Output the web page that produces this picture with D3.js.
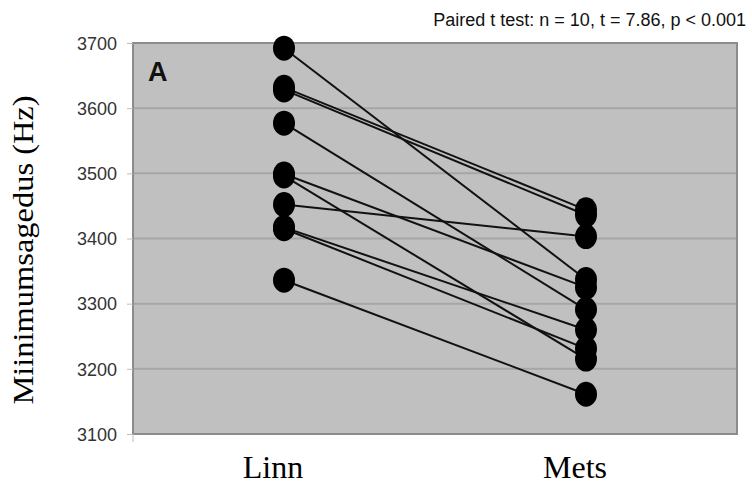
<!DOCTYPE html>
<html>
<head>
    <meta charset="utf-8">
    <title>Miinimumsagedus Linn vs Mets</title>
    <style>
        body { margin: 0; background: #ffffff; }
        .tick-label { font-family: "Liberation Sans", Arial, sans-serif; font-size: 18px; fill: #333333; }
        .cat-label { font-family: "Liberation Serif", "Times New Roman", serif; font-size: 29px; fill: #000000; }
    </style>
    <script src="https://d3js.org/d3.v7.min.js"></script>
</head>
<body>
    <div id="chart"></div>

    <script>
        // paired measurements, one entry per subject
        var groups = ["Linn", "Mets"];
        var linn = [3692, 3632, 3628, 3577, 3499, 3496, 3452, 3417, 3415, 3336];
        var mets = [3337, 3444, 3436, 3291, 3325, 3215, 3403, 3260, 3231, 3161];
        var yTicks = [3100, 3200, 3300, 3400, 3500, 3600, 3700];
        var yTitle = "Miinimumsagedus (Hz)";
        var testLabel = "Paired t test: n = 10, t = 7.86, p < 0.001";
        var panelLabel = "A";

        var W = 752, H = 485;
        var plot = { left: 133, right: 737, top: 43, bottom: 434 };

        var svg = d3.select("#chart").append("svg")
            .attr("width", W)
            .attr("height", H);

        var x = d3.scalePoint()
            .domain(groups)
            .range([plot.left, plot.right])
            .padding(0.5);

        var y = d3.scaleLinear()
            .domain([3100, 3700])
            .range([plot.bottom, plot.top]);

        // grey plot area
        svg.append("rect")
            .attr("x", plot.left)
            .attr("y", plot.top)
            .attr("width", plot.right - plot.left)
            .attr("height", plot.bottom - plot.top)
            .attr("fill", "#c0c0c0");

        // gridlines
        svg.append("g")
            .selectAll("line")
            .data(yTicks.slice(1, -1))
            .enter()
            .append("line")
            .attr("x1", plot.left)
            .attr("x2", plot.right)
            .attr("y1", function(d) { return y(d); })
            .attr("y2", function(d) { return y(d); })
            .attr("stroke", "#a6a6a6")
            .attr("stroke-width", 2);

        // border
        svg.append("rect")
            .attr("x", plot.left)
            .attr("y", plot.top)
            .attr("width", plot.right - plot.left)
            .attr("height", plot.bottom - plot.top)
            .attr("fill", "none")
            .attr("stroke", "#8c8c8c")
            .attr("stroke-width", 2);

        // y axis
        var yAxis = svg.append("g")
            .attr("transform", "translate(" + plot.left + ",0)")
            .call(d3.axisLeft(y).tickValues(yTicks).tickSize(6).tickPadding(10).tickFormat(d3.format("d")));
        yAxis.select(".domain").remove();
        yAxis.selectAll(".tick line").attr("stroke", "#bdbdbd");
        yAxis.selectAll("text").attr("class", "tick-label").attr("fill", null).attr("dy", "0.35em");

        // small tick below the bottom-left corner
        svg.append("line")
            .attr("x1", plot.left).attr("x2", plot.left)
            .attr("y1", plot.bottom).attr("y2", plot.bottom + 8)
            .attr("stroke", "#bdbdbd");

        // x labels (sit a little left of the point columns)
        svg.append("g")
            .selectAll("text")
            .data(groups)
            .enter()
            .append("text")
            .attr("class", "cat-label")
            .style("font-size", "32px")
            .attr("x", function(d) { return x(d) - 11; })
            .attr("y", 478)
            .attr("text-anchor", "middle")
            .text(function(d) { return d; });

        // y title
        svg.append("text")
            .attr("class", "cat-label")
            .attr("transform", "translate(33,250) rotate(-90) scale(1.12,1)")
            .attr("text-anchor", "middle")
            .text(yTitle);

        // paired lines
        var pairs = linn.map(function(v, i) { return { a: v, b: mets[i] }; });

        svg.append("g")
            .selectAll("line")
            .data(pairs)
            .enter()
            .append("line")
            .attr("x1", x("Linn"))
            .attr("x2", x("Mets"))
            .attr("y1", function(d) { return y(d.a); })
            .attr("y2", function(d) { return y(d.b); })
            .attr("stroke", "#111111")
            .attr("stroke-width", 2);

        // points
        var dots = svg.append("g");
        dots.selectAll(".linn")
            .data(linn)
            .enter()
            .append("ellipse")
            .attr("cx", x("Linn"))
            .attr("cy", function(d) { return y(d); })
            .attr("rx", 11)
            .attr("ry", 12.5)
            .attr("fill", "#000000");
        dots.selectAll(".mets")
            .data(mets)
            .enter()
            .append("ellipse")
            .attr("cx", x("Mets"))
            .attr("cy", function(d) { return y(d); })
            .attr("rx", 11)
            .attr("ry", 12.5)
            .attr("fill", "#000000");

        // panel letter
        svg.append("text")
            .attr("x", plot.left + 15)
            .attr("y", plot.top + 38)
            .attr("font-family", "Liberation Sans, Arial, sans-serif")
            .attr("font-weight", "bold")
            .attr("font-size", 27)
            .attr("fill", "#111111")
            .text(panelLabel);

        // test annotation
        svg.append("text")
            .attr("x", 746)
            .attr("y", 26)
            .attr("text-anchor", "end")
            .attr("font-family", "Liberation Sans, Arial, sans-serif")
            .attr("font-size", 18)
            .attr("fill", "#111111")
            .text(testLabel);
    </script>
</body>
</html>
